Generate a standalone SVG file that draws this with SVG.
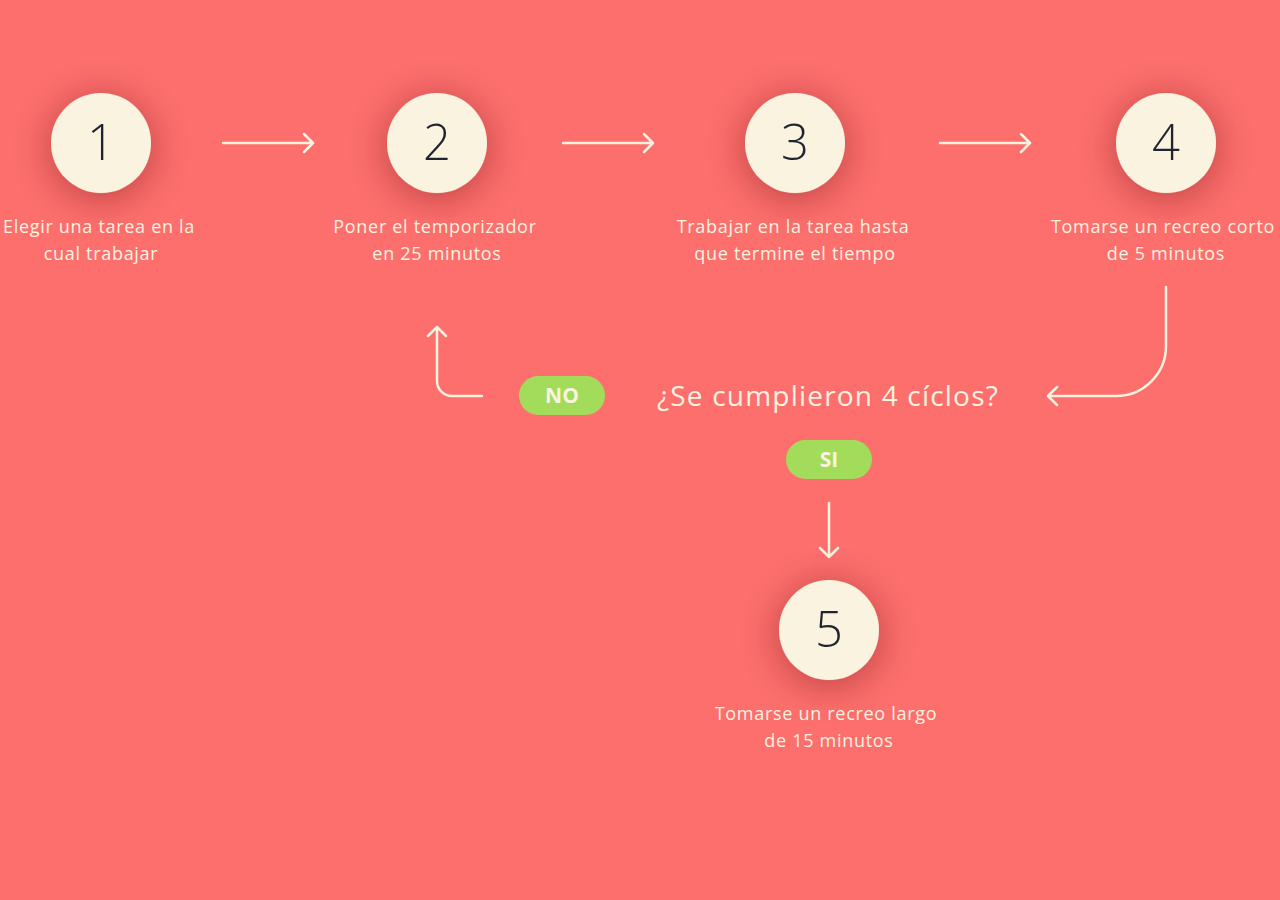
<svg xmlns="http://www.w3.org/2000/svg" width="1280" height="900" viewBox="0 0 1280 900">
<defs>
<style>
.bg{fill:#FD6F6D}
.node circle{fill:#FAF3E0;filter:url(#sh)}
.num{font-family:"Open Sans","Liberation Sans",sans-serif;font-size:49px;font-weight:350;fill:#1F2430;text-anchor:middle}
.lbl{font-family:"Open Sans","Liberation Sans",sans-serif;font-size:18px;letter-spacing:0.7px;fill:#FAF3E0;text-anchor:middle}
.q{font-family:"Open Sans","Liberation Sans",sans-serif;font-size:28px;letter-spacing:1.2px;fill:#FAF3E0;text-anchor:middle}
.pill rect{fill:#A3DC5A}
.pill text{font-family:"Open Sans","Liberation Sans",sans-serif;font-size:21px;font-weight:700;fill:#FAF3E0;text-anchor:middle}
.conn path{fill:none;stroke:#FAF3E0;stroke-width:2.5;stroke-linecap:round;stroke-linejoin:round}
</style>
<filter id="sh" x="-80%" y="-80%" width="260%" height="260%">
<feDropShadow dx="0" dy="5" stdDeviation="20" flood-color="#5a1f1f" flood-opacity="0.42"/>
</filter>
</defs>
<rect class="bg" x="0" y="0" width="1280" height="900"/>
<g class="conn" id="connectors">
<path d="M223 143H313M304 134L313 143L304 152"/>
<path d="M563 143H653M644 134L653 143L644 152"/>
<path d="M940 143H1030M1021 134L1030 143L1021 152"/>
<path d="M1166 287V346A50 50 0 0 1 1116 396H1048M1057 387L1048 396L1057 405"/>
<path d="M482 396H452A15 15 0 0 1 437 381V327M428 336L437 327L446 336"/>
<path d="M829 503V557M820 548L829 557L838 548"/>
</g>
<g class="node" id="n1"><circle cx="101" cy="143" r="50"/><text class="num" x="101" y="160">1</text>
<text class="lbl" x="99" y="233">Elegir una tarea en la</text><text class="lbl" x="101" y="260">cual trabajar</text></g>
<g class="node" id="n2"><circle cx="437" cy="143" r="50"/><text class="num" x="437" y="160">2</text>
<text class="lbl" x="435" y="233">Poner el temporizador</text><text class="lbl" x="437" y="260">en 25 minutos</text></g>
<g class="node" id="n3"><circle cx="795" cy="143" r="50"/><text class="num" x="795" y="160">3</text>
<text class="lbl" x="793" y="233">Trabajar en la tarea hasta</text><text class="lbl" x="795" y="260">que termine el tiempo</text></g>
<g class="node" id="n4"><circle cx="1166" cy="143" r="50"/><text class="num" x="1166" y="160">4</text>
<text class="lbl" x="1163" y="233">Tomarse un recreo corto</text><text class="lbl" x="1166" y="260">de 5 minutos</text></g>
<g id="decision"><text class="q" x="828" y="406">¿Se cumplieron 4 cíclos?</text></g>
<g class="pill" id="no"><rect x="519" y="376" width="86" height="39" rx="19.5"/><text x="562" y="403">NO</text></g>
<g class="pill" id="si"><rect x="786" y="440" width="86" height="39" rx="19.5"/><text x="829" y="467">SI</text></g>
<g class="node" id="n5"><circle cx="829" cy="630" r="50"/><text class="num" x="829" y="647">5</text>
<text class="lbl" x="826" y="720">Tomarse un recreo largo</text><text class="lbl" x="829" y="747">de 15 minutos</text></g>
</svg>
